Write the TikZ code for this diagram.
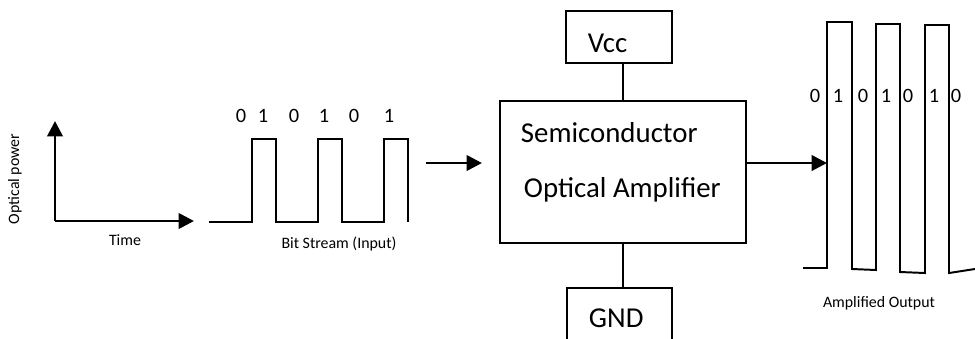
\documentclass[tikz,border=0pt]{standalone}
\usepackage{fontspec}
\setmainfont{Carlito}
\usetikzlibrary{arrows.meta}

\begin{document}
\begin{tikzpicture}[x=0.025cm, y=-0.025cm, line width=1.4pt,
  every node/.style={inner sep=0pt},
  blk/.style={draw, line width=1.4pt},
  bigtxt/.style={font=\fontsize{20.5}{24}\selectfont, anchor=base west},
  bit/.style={font=\fontsize{14.5}{17}\selectfont, anchor=base},
  small/.style={font=\fontsize{11.3}{13}\selectfont, anchor=base},
  arr/.style={-{Triangle[length=11pt, width=11pt]}, line width=2pt}]
  \useasboundingbox (0,0) rectangle (975,338);
  % axes
  \coordinate (o) at (55,221);
  \coordinate (yend) at (55,121);
  \coordinate (xend) at (194,221);
  \draw[arr] (o) -- (yend);
  \draw[arr] (o) -- (xend);
  \node[small, rotate=90, anchor=center] (ylab) at (15,179) {Optical power};
  \node[small] (xlab) at (125,245) {Time};
  % input bit stream
  \draw (209,222) -- (252,222) -- (252,139) -- (276,139) -- (276,222)
    -- (318,222) -- (318,139) -- (342,139) -- (342,222)
    -- (384,222) -- (384,139) -- (408,139) -- (408,222);
  \node[bit] (i1) at (241,122) {0};
  \node[bit] (i2) at (263,122) {1};
  \node[bit] (i3) at (294,122) {0};
  \node[bit] (i4) at (324,122) {1};
  \node[bit] (i5) at (354,122) {0};
  \node[bit] (i6) at (389,122) {1};
  \node[small] (inlab) at (339,248) {Bit Stream (Input)};
  % amplifier and supply
  \node[blk, minimum width=6.15cm, minimum height=3.55cm] (soa) at (623,172) {};
  \node[bigtxt] (t1) at (520,142) {Semiconductor};
  \node[bigtxt] (t2) at (523,197) {Optical Amplifier};
  \node[blk, minimum width=2.65cm, minimum height=1.3cm] (vcc) at (619,37) {};
  \node[bigtxt] (vcclab) at (587,52) {Vcc};
  \node[blk, minimum width=2.63cm, minimum height=1.5cm] (gnd) at (619.5,318) {};
  \node[bigtxt] (gndlab) at (588,327) {GND};
  \draw (soa.north) -- (soa.north |- vcc.south);
  \draw (soa.south) -- (soa.south |- gnd.north);
  % arrows in and out
  \coordinate (inA) at (426,163);
  \coordinate (outA) at (827,163);
  \draw[arr] (inA) -- ([xshift=-0.425cm]soa.west |- inA);
  \draw[arr] (soa.east |- outA) -- (outA);
  % amplified output
  \draw (803,268) -- (827,268) -- (827,22) -- (852,22) -- (852,269)
    -- (876,270) -- (876,24) -- (900,24) -- (900,272)
    -- (925,273) -- (925,25) -- (949,25) -- (949,273) -- (975,269);
  \node[bit] (o1) at (815,102) {0};
  \node[bit] (o2) at (838,102) {1};
  \node[bit] (o3) at (863,102) {0};
  \node[bit] (o4) at (886,102) {1};
  \node[bit] (o5) at (908,102) {0};
  \node[bit] (o6) at (934,102) {1};
  \node[bit] (o7) at (956,102) {0};
  \node[small] (outlab) at (879,307) {Amplified Output};
\end{tikzpicture}
\end{document}
